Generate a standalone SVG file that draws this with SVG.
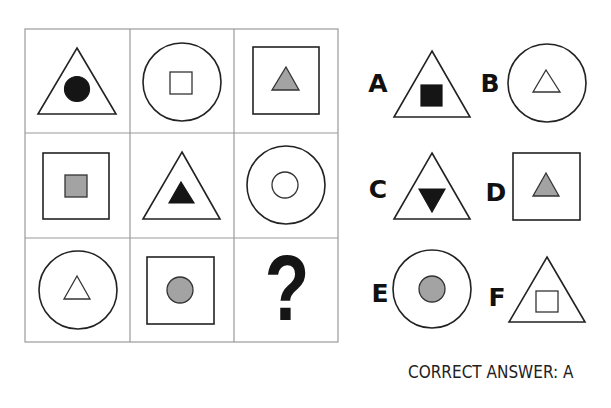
<svg xmlns="http://www.w3.org/2000/svg" width="611" height="408" viewBox="0 0 611 408">
<style>
.grid{fill:none;stroke:#9a9a9a;stroke-width:1.2}
.o{fill:#fff;stroke:#222;stroke-width:1.6}
.b{fill:#151515;stroke:#151515;stroke-width:1.2}
.g{fill:#a3a3a3;stroke:#333;stroke-width:1.3}
.w{fill:#fff;stroke:#333;stroke-width:1.3}
.lbl{font-family:"DejaVu Sans","Liberation Sans",sans-serif;font-weight:bold;font-size:25px;fill:#111}
.q{font-family:"Liberation Sans",sans-serif;font-weight:bold;font-size:92px;fill:#151515}
.ans{font-family:"DejaVu Sans Condensed","DejaVu Sans","Liberation Sans",sans-serif;font-size:17px;fill:#222}
</style>
<rect width="611" height="408" fill="#fff"/>
<g id="grid">
<rect class="grid" x="25" y="29" width="313" height="313"/>
<line class="grid" x1="130" y1="29" x2="130" y2="342"/>
<line class="grid" x1="234" y1="29" x2="234" y2="342"/>
<line class="grid" x1="25" y1="133" x2="338" y2="133"/>
<line class="grid" x1="25" y1="238" x2="338" y2="238"/>
</g>
<g id="cell1">
<polygon class="o" points="77,48 116,114 38,114"/>
<circle class="b" cx="77" cy="89" r="12.5"/>
</g>
<g id="cell2">
<circle class="o" cx="182" cy="82" r="39"/>
<rect class="w" x="170" y="72" width="22" height="22"/>
</g>
<g id="cell3">
<rect class="o" x="253" y="47" width="66" height="67"/>
<polygon class="g" points="286,67 299,90 272,90"/>
</g>
<g id="cell4">
<rect class="o" x="43" y="153" width="66" height="66"/>
<rect class="g" x="65" y="175" width="22" height="22"/>
</g>
<g id="cell5">
<polygon class="o" points="182,152 220,219 143,219"/>
<polygon class="b" points="181,182 194,203 169,203"/>
</g>
<g id="cell6">
<circle class="o" cx="286" cy="185" r="39"/>
<circle class="w" cx="285" cy="185" r="13"/>
</g>
<g id="cell7">
<circle class="o" cx="78" cy="290" r="39"/>
<polygon class="w" points="77,276 90,299 64,299"/>
</g>
<g id="cell8">
<rect class="o" x="147" y="257" width="67" height="67"/>
<circle class="g" cx="180" cy="290" r="13"/>
</g>
<g id="cell9">
<text class="q" x="0" y="320" text-anchor="middle" transform="translate(287,0) scale(0.8,1)">?</text>
</g>
<g id="optA">
<text class="lbl" x="378" y="92" text-anchor="middle">A</text>
<polygon class="o" points="432,51 470,117 394,117"/>
<rect class="b" x="421" y="85" width="21" height="21"/>
</g>
<g id="optB">
<text class="lbl" x="490" y="92" text-anchor="middle">B</text>
<circle class="o" cx="547" cy="83" r="39"/>
<polygon class="w" points="546,70 560,92 533,92"/>
</g>
<g id="optC">
<text class="lbl" x="378" y="198" text-anchor="middle">C</text>
<polygon class="o" points="432,153 470,219 394,219"/>
<polygon class="b" points="419,189 445,189 432,212"/>
</g>
<g id="optD">
<text class="lbl" x="496" y="201" text-anchor="middle">D</text>
<rect class="o" x="513" y="153" width="67" height="67"/>
<polygon class="g" points="546,173 559,196 533,196"/>
</g>
<g id="optE">
<text class="lbl" x="380" y="302" text-anchor="middle">E</text>
<circle class="o" cx="432" cy="289" r="39"/>
<circle class="g" cx="432" cy="289" r="13"/>
</g>
<g id="optF">
<text class="lbl" x="497" y="306" text-anchor="middle">F</text>
<polygon class="o" points="547,257 585,322 509,322"/>
<rect class="w" x="536" y="291" width="22" height="21"/>
</g>
<g id="answer">
<text class="ans" x="408" y="378">CORRECT ANSWER: A</text>
</g>
</svg>
